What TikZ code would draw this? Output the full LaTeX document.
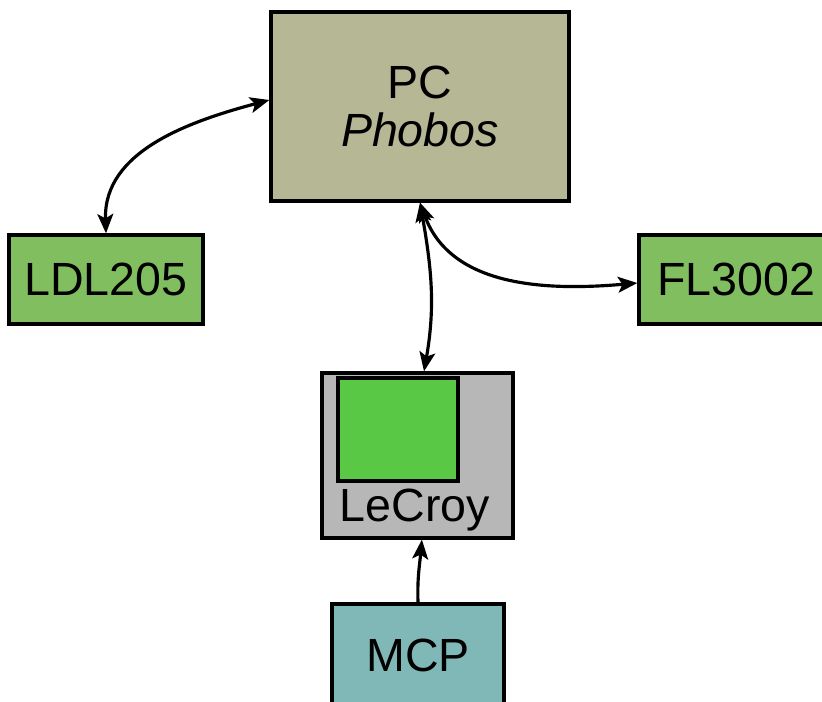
\documentclass[tikz,border=0pt]{standalone}
\usepackage{fontspec}
\setmainfont{Liberation Sans}
\usetikzlibrary{
  arrows.meta,
  positioning,
}
\tikzstyle{block} = [
  draw,
  line width=1.9pt,
  inner sep=0pt,
  font=\fontsize{26.5}{27.5}\selectfont,
  align=center,
]
\tikzstyle{arrow} = [
  -{Stealth[length=11pt, width=9pt, inset=2.5pt]},
  line width=1.8pt,
]
\tikzstyle{biarrow} = [
  arrow,
  {Stealth[length=11pt, width=9pt, inset=2.5pt]}-{Stealth[length=11pt, width=9pt, inset=2.5pt]},
]
\definecolor{pcgrey}{RGB}{182, 183, 148}
\definecolor{devgreen}{RGB}{128, 190, 96}
\definecolor{scopegrey}{RGB}{183, 183, 183}
\definecolor{screengreen}{RGB}{89, 201, 69}
\definecolor{mcpteal}{RGB}{128, 184, 184}

\begin{document}
\begin{tikzpicture}[x=0.02cm, y=0.02cm]
  \useasboundingbox (0,0) rectangle (822,701);
  % machines
  \node [block, fill=pcgrey, minimum width=5.96cm, minimum height=3.78cm] (pc) at (420,594.5) {PC\\\textit{Phobos}};
  \node [block, fill=devgreen, minimum width=3.88cm, minimum height=1.78cm] (ldl) at (106,421.5) {LDL205};
  \node [block, fill=devgreen, minimum width=3.88cm, minimum height=1.78cm] (fl) at (736,421.5) {FL3002};
  \node [block, fill=scopegrey, minimum width=3.82cm, minimum height=3.30cm] (lecroy) at (417.5,245.5) {};
  \node [block, fill=screengreen, minimum width=2.40cm, minimum height=2.06cm] (screen) at (398,271.5) {};
  \node [font=\fontsize{26.5}{27.5}\selectfont, inner sep=0pt] (lecroylabel) at (415,191) {LeCroy};
  \node [block, fill=mcpteal, minimum width=3.44cm, minimum height=2.04cm] (mcp) at (418,46) {MCP};
  % links
  \draw [biarrow] (ldl.north) to[out=92, in=195] ([yshift=3.7pt]pc.west);
  \draw [biarrow] (pc.south) to[out=-80, in=80] ([xshift=3.7pt]lecroy.north);
  \draw [biarrow] (pc.south) to[out=-70, in=185] ([yshift=-2pt]fl.west);
  \draw [arrow] (mcp.north) to[out=92, in=-95] ([xshift=2.5pt]lecroy.south);
\end{tikzpicture}
\end{document}
